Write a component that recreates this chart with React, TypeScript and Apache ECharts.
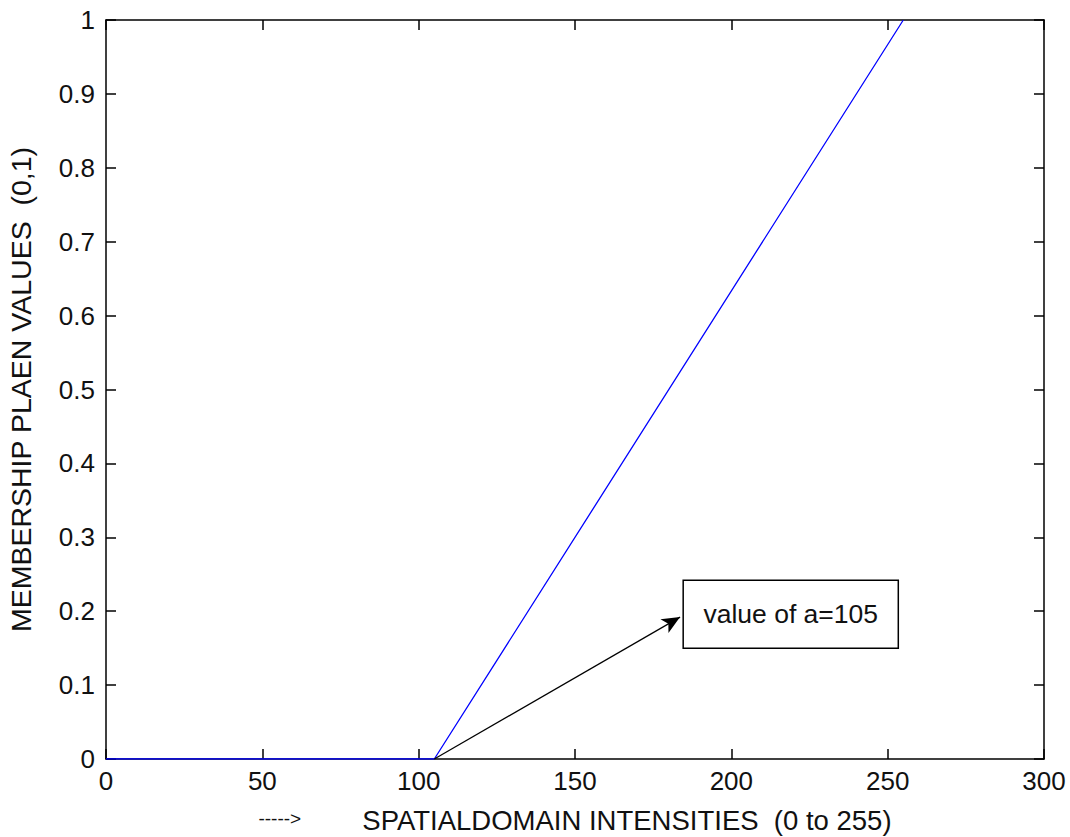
import React, { useEffect, useRef } from "react";
import * as echarts from "echarts";

const xBreak = [0, 105, 255];
const yBreak = [0, 0, 1];
const xTicks = [0, 50, 100, 150, 200, 250, 300];
const yTicks = [0, 0.1, 0.2, 0.3, 0.4, 0.5, 0.6, 0.7, 0.8, 0.9, 1];
const arrowStart = [105, 0];
const arrowEnd = [183.6, 0.192];
const boxCorners = [[184.6, 0.242], [253.4, 0.15]];
const annotation = "value of a=105";
const xNameArrow = "----->";
const xName = "SPATIALDOMAIN INTENSITIES  (0 to 255)";
const yName = "MEMBERSHIP PLAEN VALUES  (0,1)";

const FONT = "'Liberation Sans', Arial, sans-serif";

function tick() {
  return { show: true, inside: false, length: -10, lineStyle: { color: "#000", width: 1.5 } };
}
function line() {
  return { show: true, onZero: false, lineStyle: { color: "#000", width: 1.5 } };
}

export default function App() {
  const ref = useRef<HTMLDivElement>(null);
  useEffect(() => {
    if (!ref.current) return;
    const chart = echarts.init(ref.current, null, { renderer: "svg" });
    chart.setOption({
      animation: false,
      backgroundColor: "#fff",
      grid: {
        left: 106, top: 20, right: 26, bottom: 78,
        containLabel: false, outerBoundsMode: "none",
      },
      xAxis: [
        {
          type: "value", min: 0, max: 300, interval: 50, splitLine: { show: false },
          position: "bottom",
          axisLine: line(),
          axisTick: tick(),
          axisLabel: {
            color: "#111",
            fontFamily: FONT,
            fontSize: 26,
            margin: 9,
            formatter: (v: number) => (xTicks.includes(v) ? String(v) : ""),
          },
          name: "{a|" + xNameArrow + "}" + "        " + xName,
          nameLocation: "middle",
          nameGap: 47,
          nameTextStyle: {
            color: "#111", fontFamily: FONT, fontSize: 27.5,
            rich: { a: { fontFamily: FONT, fontSize: 19, color: "#111", padding: [0, 0, 4, 0] } },
          },
        },
        {
          type: "value", min: 0, max: 300, interval: 50, splitLine: { show: false },
          position: "top",
          axisLine: line(),
          axisTick: tick(),
          axisLabel: { show: false },
        },
      ],
      yAxis: [
        {
          type: "value", min: 0, max: 1, interval: 0.1, splitLine: { show: false },
          position: "left",
          axisLine: line(),
          axisTick: tick(),
          axisLabel: {
            color: "#111",
            fontFamily: FONT,
            fontSize: 26,
            margin: 11,
            formatter: (v: number) => {
              const t = yTicks.find((y) => Math.abs(y - v) < 1e-9);
              return t === undefined ? "" : String(Math.round(t * 10) / 10);
            },
          },
          name: yName,
          nameLocation: "middle",
          nameGap: 71,
          nameTextStyle: { color: "#111", fontFamily: FONT, fontSize: 28.5 },
        },
        {
          type: "value", min: 0, max: 1, interval: 0.1, splitLine: { show: false },
          position: "right",
          axisLine: line(),
          axisTick: tick(),
          axisLabel: { show: false },
        },
      ],
      series: [
        {
          type: "line",
          data: xBreak.map((x, i) => [x, yBreak[i]]),
          showSymbol: false,
          lineStyle: { color: "#0000ff", width: 1.3 },
          itemStyle: { color: "#0000ff" },
          markLine: {
            silent: true,
            symbol: ["none", "arrow"],
            symbolSize: [12, 18],
            label: { show: false },
            lineStyle: { color: "#000", width: 1.2, type: "solid" },
            data: [[{ coord: arrowStart }, { coord: arrowEnd }]],
          },
          markArea: {
            silent: true,
            itemStyle: { color: "#fff", borderColor: "#000", borderWidth: 1.5 },
            label: {
              show: true,
              position: "inside",
              color: "#111",
              fontFamily: FONT,
              fontSize: 26.5,
            },
            data: [[{ coord: boxCorners[0], name: annotation }, { coord: boxCorners[1] }]],
          },
        },
      ],
    });
    return () => chart.dispose();
  }, []);
  return (
    <div
      ref={ref}
      style={{ position: "fixed", left: 0, top: 0, width: 1070, height: 837, background: "#fff" }}
    />
  );
}
